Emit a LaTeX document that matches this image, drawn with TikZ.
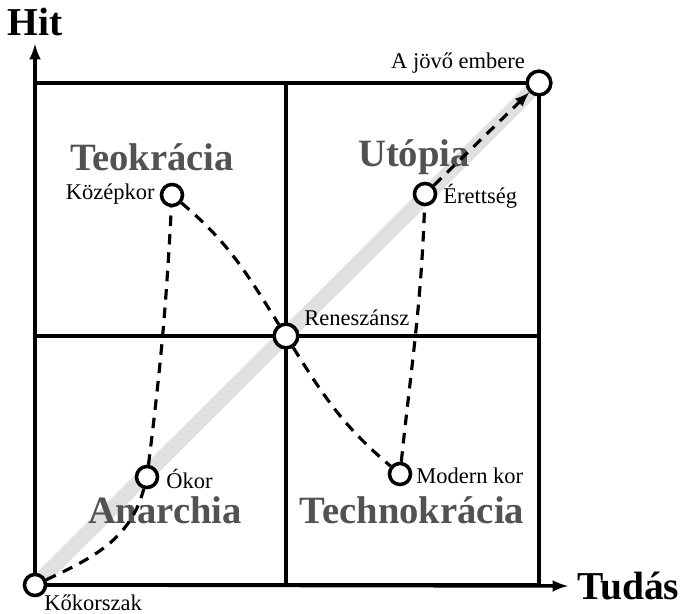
\documentclass[tikz,border=0pt]{standalone}
\usepackage{fontspec}
\setmainfont{Liberation Serif}
\usepackage{tikz}
\usetikzlibrary{arrows,backgrounds}

\begin{document}
\begin{tikzpicture}[x=0.02cm,y=-0.02cm]
		\tikzstyle{Era}		= [circle, draw, solid, line width=2pt, fill=white, minimum size=12pt, inner sep=0pt]
		\tikzstyle{BigEra}	= [Era, minimum size=13.5pt]
		\tikzstyle{EraName}	= [font=\fontsize{12.8}{15}\selectfont, inner sep=0pt]
		\tikzstyle{Region}	= [font=\bfseries\fontsize{22}{26}\selectfont, text=black!68, inner sep=0pt]
		\tikzstyle{AxisName}	= [font=\bfseries\fontsize{22.5}{26}\selectfont, inner sep=0pt]
		\tikzstyle{Grid}	= [line width=2pt]
		\tikzstyle{Axis}	= [line width=2pt, -latex]
		\tikzstyle{Path}	= [line width=1.8pt, dash pattern=on 6pt off 4.5pt]
		\tikzstyle{Spine}	= [line width=8.5pt, black!12]

		\useasboundingbox (0,0) rectangle (684,614);

		% korszakok
		\node (kokor) at (35,585) [Era] {};
		\node (okor) at (147,477) [Era] {};
		\node (kozep) at (172,195) [Era] {};
		\node (ren) at (286,336) [BigEra] {};
		\node (modern) at (400,474) [Era] {};
		\node (eret) at (425,194) [Era] {};
		\node (jovo) at (539,83) [BigEra] {};

		\coordinate (xEnd) at (568,586);
		\coordinate (yEnd) at (35,44);

		\begin{pgfonlayer}{background}
			\draw [-] (kokor.center) to (jovo.center) [Spine];
			\draw [-] (kokor.center) rectangle (jovo.center) [Grid];
			\draw [-] (ren -| kokor) to (ren -| jovo) [Grid];
			\draw [-] (ren |- jovo) to (ren |- kokor) [Grid];
			\draw (kokor.center) to (xEnd) [Axis];
			\draw (kokor.center) to (yEnd) [Axis];
		\end{pgfonlayer}

		% tengelyek
		\node (hit) at (35,22) [AxisName] {Hit};
		\node (tudas) at (577,586) [AxisName, anchor=west] {Tudás};

		% negyedek
		\node (teo) at (152,157) [Region] {Teokrácia};
		\node (uto) at (414,157) [Region] {Utópia};
		\node (ana) at (165,510) [Region] {Anarchia};
		\node (tech) at (412,510) [Region] {Technokrácia};

		\node (lKokor) at (44,603) [EraName, anchor=west] {Kőkorszak};
		\node (lOkor) at (166,479) [EraName, anchor=west] {Ókor};
		\node (lKozep) at (155,194) [EraName, anchor=east] {Középkor};
		\node (lRen) at (304,318) [EraName, anchor=west] {Reneszánsz};
		\node (lModern) at (416,476) [EraName, anchor=west] {Modern kor};
		\node (lEret) at (443,196) [EraName, anchor=west] {Érettség};
		\node (lJovo) at (458,63) [EraName] {A jövő embere};

		% fejlodes utja
		\draw [-] (kokor) to [out=25, in=-105] (okor) [Path];
		\draw [-] (okor) to [out=83, in=-93] (kozep) [Path];
		\draw [-] (kozep) to [out=-40, in=122] (ren) [Path];
		\draw [-] (ren) to [out=-58, in=140] (modern) [Path];
		\draw [-] (modern) to [out=84, in=-92] (eret) [Path];
		\draw [-latex] (eret) to (jovo) [Path];
	\end{tikzpicture}
\end{document}
